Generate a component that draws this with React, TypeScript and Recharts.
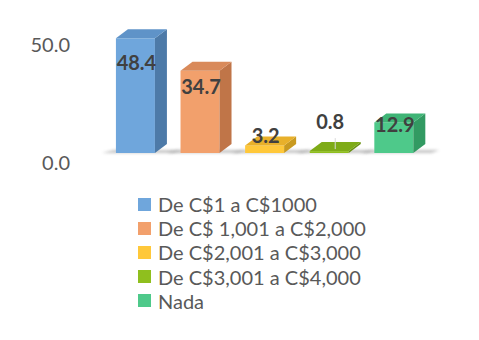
import { BarChart, Bar, XAxis, YAxis, LabelList } from 'recharts'

const categories = [
  'De C$1 a C$1000',
  'De C$ 1,001 a C$2,000',
  'De C$2,001 a C$3,000',
  'De C$3,001 a C$4,000',
  'Nada',
]
const values = [48.4, 34.7, 3.2, 0.8, 12.9]
const yTicks = [0, 50]

// front / side / top face colours per series
const fronts = ['#6fa6dc', '#f2a06c', '#ffc83a', '#8fbf1e', '#4ec98a']
const sides = ['#4d7aa8', '#c07548', '#c99a20', '#6a9012', '#329a62']
const tops = ['#5f93c8', '#d98a5a', '#e8b02a', '#7eab18', '#3fb476']

const keys = categories.map((_, i) => 's' + i)
const data = categories.map((name, i) => ({ name, [keys[i]]: values[i] }))

const DX = 12
const DY = 9
const FONT = 'Lato, "Liberation Sans", sans-serif'

function make3d(i: number) {
  return (props: any) => {
    const { x, y, width, height, payload } = props
    if (payload == null || payload[keys[i]] == null) return <g />
    const b = y + height
    return (
      <g>
        <polygon
          points={`${x - 14},${b} ${x + width + 18},${b} ${x + width + DX + 14},${b - 3} ${x - 2},${b - 3}`}
          fill="#7a7a7a"
          opacity={0.45}
          filter="url(#blur)"
        />
        <rect x={x} y={y} width={width} height={height} fill={fronts[i]} />
        <polygon
          points={`${x + width},${y} ${x + width + DX},${y - DY} ${x + width + DX},${b - DY} ${x + width},${b}`}
          fill={sides[i]}
        />
        <polygon
          points={`${x},${y} ${x + DX},${y - DY} ${x + width + DX},${y - DY} ${x + width},${y}`}
          fill={tops[i]}
        />
      </g>
    )
  }
}

function makeLabel(i: number) {
  return (props: any) => {
    const { x, y, width, height, value } = props
    if (value == null || value === '') return null
    const cx = x + width / 2 + 1
    let off = 0.27 * height - 6
    let leader = null
    if (height < 5) {
      off = -29
      leader = (
        <line x1={cx + 5} y1={y - 13} x2={cx + 5} y2={y - 2} stroke="#d9d9d9" strokeWidth={1} />
      )
    } else if (height < 12) {
      off = -9
    }
    return (
      <g>
        {leader}
        <text
          x={cx}
          y={y + off + 7}
          textAnchor="middle"
          fontFamily={FONT}
          fontWeight="bold"
          fontSize={20}
          fill="#404040"
        >
          {Number(values[i]).toFixed(1)}
        </text>
      </g>
    )
  }
}

function LegendBox() {
  return (
    <div
      style={{
        position: 'absolute',
        left: 138,
        top: 192,
        fontFamily: FONT,
        fontSize: 20,
        color: '#595959',
      }}
    >
      {categories.map((c, i) => (
        <div key={c} style={{ display: 'flex', alignItems: 'center', height: 24.2 }}>
          <span
            style={{
              display: 'inline-block',
              width: 13,
              height: 13,
              background: fronts[i],
              marginRight: 7,
            }}
          />
          <span style={{ lineHeight: '24px' }}>{c}</span>
        </div>
      ))}
    </div>
  )
}

export default function App() {
  return (
    <div style={{ position: 'absolute', left: 0, top: 0, width: 479, height: 340, background: '#fff' }}>
      <BarChart
        width={479}
        height={340}
        data={data}
        margin={{ top: 34.5, right: 53, left: 13, bottom: 187 }}
        barCategoryGap="20%"
      >
        <defs>
          <filter id="blur" x="-20%" y="-200%" width="140%" height="500%">
            <feGaussianBlur stdDeviation="1.5" />
          </filter>
        </defs>
        <XAxis dataKey="name" hide />
        <YAxis
          width={90}
          domain={[0, 50]}
          ticks={yTicks}
          axisLine={false}
          tickLine={false}
          tickSize={0}
          tickMargin={33}
          tickFormatter={(v: number) => v.toFixed(1)}
          tick={{ fill: '#595959', fontSize: 20, fontFamily: FONT, dy: 10 }}
        />
        {keys.map((k, i) => (
          <Bar
            key={k}
            dataKey={k}
            stackId="a"
            fill={fronts[i]}
            shape={make3d(i)}
            isAnimationActive={false}
          >
            <LabelList dataKey={k} content={makeLabel(i)} />
          </Bar>
        ))}
      </BarChart>
      <LegendBox />
    </div>
  )
}
